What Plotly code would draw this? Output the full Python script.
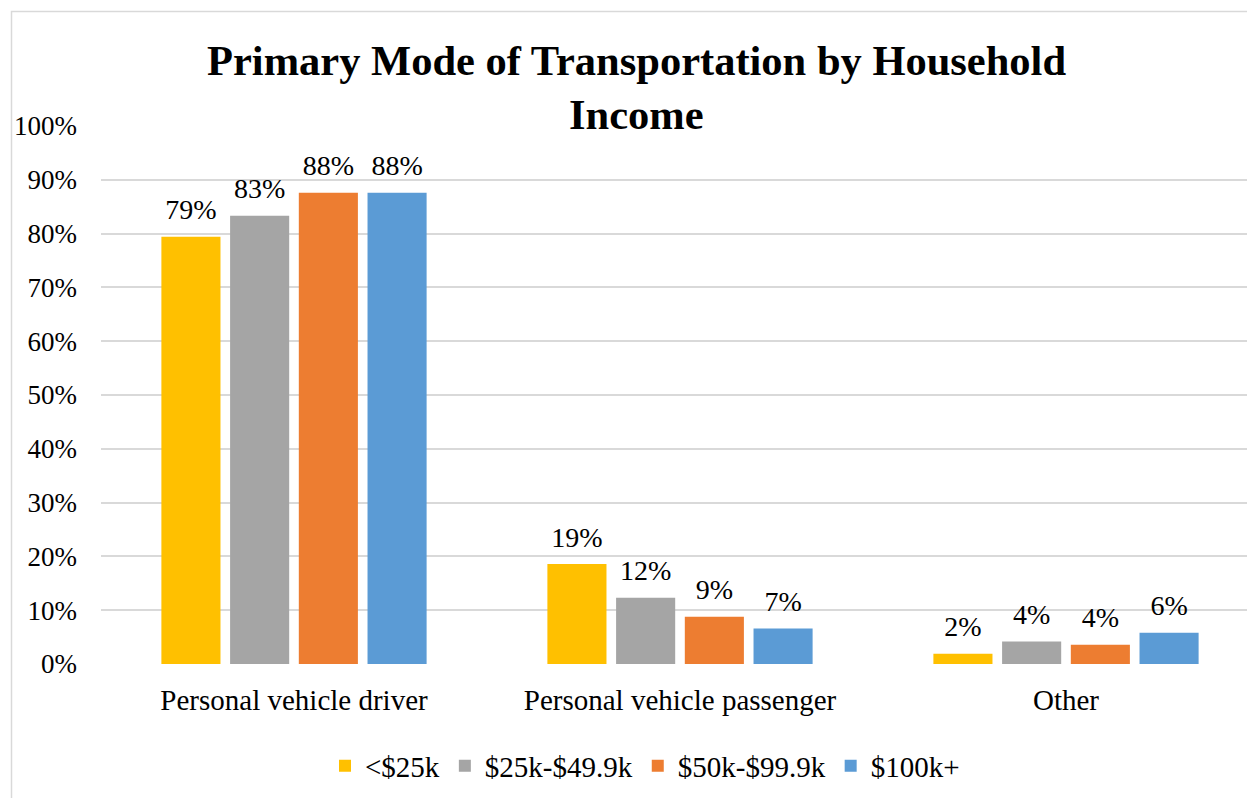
import plotly.graph_objects as go

categories = ["Personal vehicle driver", "Personal vehicle passenger", "Other"]
series_names = ["<$25k", "$25k-$49.9k", "$50k-$99.9k", "$100k+"]
under_25k = [0.794, 0.186, 0.019]
k25_to_49 = [0.833, 0.123, 0.042]
k50_to_99 = [0.876, 0.088, 0.036]
k100_plus = [0.876, 0.066, 0.058]
colors = ["#FFC000", "#A5A5A5", "#ED7D31", "#5B9BD5"]
y_ticks = [0, 0.1, 0.2, 0.3, 0.4, 0.5, 0.6, 0.7, 0.8, 0.9, 1.0]

FONT = "Liberation Serif, Times New Roman, serif"
BARGAP = 0.288

fig = go.Figure()
for i, (name, vals, col) in enumerate(zip(series_names, [under_25k, k25_to_49, k50_to_99, k100_plus], colors)):
    fig.add_trace(go.Bar(
        x=categories, y=vals, name=name, offsetgroup=str(i),
        marker=dict(color=col, line=dict(width=0)),
    ))
for i, vals in enumerate([under_25k, k25_to_49, k50_to_99, k100_plus]):
    fig.add_trace(go.Scatter(
        x=categories, y=vals, offsetgroup=str(i), mode="markers+text",
        marker=dict(size=15, opacity=0), showlegend=False, hoverinfo="skip",
        texttemplate="%{y:.0%}", textposition="top center",
        textfont=dict(family=FONT, size=28, color="#000000"),
        cliponaxis=False,
    ))

# page offset of 8px (body margin) -> figure coords = page coords - 8
W, H = 1255, 798
L, R, T, B = 93, 4, 118, 142
pw = W - L - R
ph = H - T - B


def fx(px):
    return (px - L) / pw


def fy(py):
    return (T + ph - py) / ph


fig.update_layout(
    width=W, height=H,
    margin=dict(l=L, r=R, t=T, b=B, autoexpand=False),
    paper_bgcolor="white", plot_bgcolor="white",
    barmode="group", bargap=BARGAP, bargroupgap=0.14,
    scattermode="group", scattergap=BARGAP,
    font=dict(family=FONT, color="#000000"),
    showlegend=True,
    legend=dict(orientation="h", x=fx(637), xanchor="center",
                y=fy(758), yanchor="middle",
                font=dict(family=FONT, size=29, color="#000000"),
                itemwidth=30, traceorder="normal"),
    xaxis=dict(range=[-0.5, 2.5], showgrid=False, showline=False, zeroline=False,
               ticks="", tickfont=dict(family=FONT, size=29, color="#000000"),
               ticklabelstandoff=16),
    yaxis=dict(range=[0, 1.0], tickvals=y_ticks, tickformat=".0%",
               showgrid=True, gridcolor="#D9D9D9", gridwidth=1.5,
               zeroline=False, showline=False, ticks="",
               tickfont=dict(family=FONT, size=27, color="#000000"),
               ticklabelstandoff=23),
    annotations=[
        dict(text="<b>Primary Mode of Transportation by Household</b>",
             x=fx(628), y=fy(27), xref="paper", yref="paper",
             xanchor="center", yanchor="top", showarrow=False,
             font=dict(family=FONT, size=42.5, color="#000000")),
        dict(text="<b>Income</b>",
             x=fx(628), y=fy(81), xref="paper", yref="paper",
             xanchor="center", yanchor="top", showarrow=False,
             font=dict(family=FONT, size=42.5, color="#000000")),
    ],
    shapes=[dict(type="rect", xref="paper", yref="paper",
                 x0=fx(3.5), x1=fx(1300), y0=fy(900), y1=fy(3.5),
                 line=dict(color="#D9D9D9", width=1.5), fillcolor="rgba(0,0,0,0)",
                 layer="below")],
)

fig.write_html("out.html")
